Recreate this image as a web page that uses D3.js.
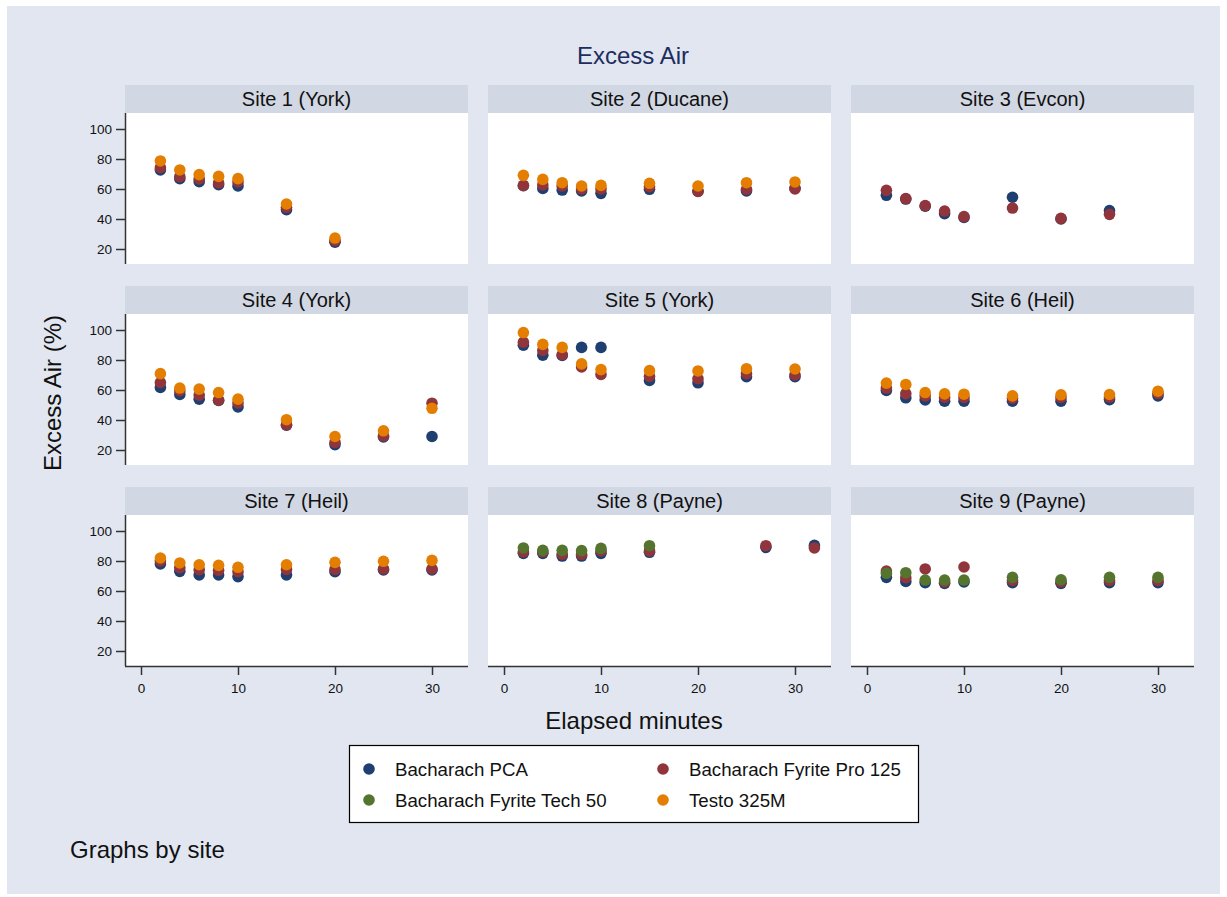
<!DOCTYPE html>
<html>
<head>
<meta charset="utf-8">
<script src="https://cdn.jsdelivr.net/npm/d3@7"></script>
<style>
  body { margin:0; background:#ffffff; }
  svg text { font-family: "Liberation Sans", Arial, sans-serif; }
</style>
</head>
<body>
<div class="chart"></div>
<script>
// facets
var sites = ["Site 1 (York)", "Site 2 (Ducane)", "Site 3 (Evcon)",
             "Site 4 (York)", "Site 5 (York)", "Site 6 (Heil)",
             "Site 7 (Heil)", "Site 8 (Payne)", "Site 9 (Payne)"];

var minutes = [
  [2,4,6,8,10,15,20],
  [2,4,6,8,10,15,20,25,30],
  [2,4,6,8,10,15,20,25],
  [2,4,6,8,10,15,20,25,30],
  [2,4,6,8,10,15,20,25,30],
  [2,4,6,8,10,15,20,25,30],
  [2,4,6,8,10,15,20,25,30],
  [2,4,6,8,10,15,27,32],
  [2,4,6,8,10,15,20,25,30]
];

// excess air (%) by analyzer, one row per site (null = not measured)
var pca = [
  [72.7,66.9,64.9,62.9,62.0,46.2,24.5],
  [62.2,60.4,59.3,58.7,57.1,59.8,58.5,58.7,60.5],
  [55.8,53.3,48.5,43.6,41.0,54.5,40.0,45.6],
  [61.7,57.0,53.9,53.0,48.7,36.5,23.6,28.7,29.0],
  [89.9,83.2,83.0,88.4,88.4,66.4,64.8,68.9,68.9],
  [59.7,54.8,53.4,52.5,52.5,52.5,52.5,53.6,56.1],
  [78.0,73.1,70.7,70.7,69.6,70.7,72.9,74.0,74.0],
  [85.1,85.1,83.3,83.3,85.1,85.8,89.1,90.4],
  [69.1,66.4,65.6,65.1,66.0,65.6,65.1,65.6,65.6]
];
var pro125 = [
  [74.2,68.2,66.7,64.0,64.7,47.8,25.6],
  [62.4,62.7,62.0,60.0,60.0,61.5,58.4,59.8,60.0],
  [59.1,53.6,48.9,45.3,41.6,47.3,40.4,43.1],
  [65.0,59.5,56.6,53.2,51.4,36.8,25.0,29.4,51.2],
  [91.9,86.4,83.5,75.4,70.4,69.1,67.5,70.9,70.0],
  [61.3,57.6,56.1,55.0,55.0,54.5,55.0,55.3,57.7],
  [80.0,75.5,74.2,73.8,72.9,74.4,74.4,74.7,74.7],
  [86.0,86.0,84.5,84.4,86.7,86.7,90.2,88.7],
  [73.3,68.9,74.7,66.0,76.0,67.0,66.0,67.0,67.0]
];
var tech50 = [
  null, null, null, null, null, null, null,
  [88.7,87.1,87.1,86.9,88.4,90.2,null,null],
  [71.8,72.2,67.3,67.3,67.3,69.1,67.5,69.1,69.1]
];
var testo = [
  [78.7,72.7,69.6,68.4,66.9,50.0,27.3],
  [69.1,66.4,64.2,62.0,62.4,63.8,62.0,64.2,64.7],
  null,
  [70.9,61.3,60.6,58.3,53.9,40.2,29.0,32.8,47.8],
  [98.3,90.4,88.4,77.4,73.6,72.9,72.7,74.2,74.0],
  [64.6,63.7,58.3,57.4,57.2,56.1,56.8,57.0,59.2],
  [82.0,78.7,77.5,77.1,75.8,77.5,79.1,79.8,80.4],
  null,
  null
];

var seriesNames = ["Bacharach PCA", "Bacharach Fyrite Pro 125", "Bacharach Fyrite Tech 50", "Testo 325M"];
var seriesColors = ["#1f3f70", "#90353b", "#55752f", "#e37e00"];
var seriesData = [pca, pro125, tech50, testo];

var xTicks = [0,10,20,30];
var yTicks = [20,40,60,80,100];

function make_chart() {
    var W = 1227, H = 897;
    var svg = d3.select(".chart").append("svg")
                .attr("width", W)
                .attr("height", H);

    svg.append("rect")
       .attr("x", 7).attr("y", 6)
       .attr("width", 1213).attr("height", 888)
       .attr("fill", "#e1e6f0");

    var colLeft = [125, 488, 851],
        rowTop  = [113, 314, 515],
        pw = 343, ph = 151, stripH = 28;

    var x = d3.scaleLinear().domain([0, 30]).range([16, 307]);
    var y = d3.scaleLinear().domain([20, 100]).range([ph - 15, ph - 135]);

    sites.forEach(function(name, i) {
        var r = Math.floor(i / 3), c = i % 3;
        var g = svg.append("g")
                   .attr("transform", "translate(" + colLeft[c] + "," + rowTop[r] + ")");

        // strip
        g.append("rect")
         .attr("x", 0).attr("y", -stripH)
         .attr("width", pw).attr("height", stripH)
         .attr("fill", "#d1d7e3");
        g.append("text")
         .attr("x", pw / 2).attr("y", -7.5)
         .attr("text-anchor", "middle")
         .attr("font-size", 20)
         .attr("fill", "#111")
         .text(name);

        g.append("rect")
         .attr("width", pw).attr("height", ph)
         .attr("fill", "#ffffff");

        // points, drawn in series order so orange ends on top
        seriesData.forEach(function(s, k) {
            var vals = s[i];
            if (!vals) return;
            var pts = minutes[i].map(function(m, j) { return {m: m, v: vals[j]}; })
                                .filter(function(d) { return d.v != null; });
            g.selectAll(".pt" + k)
             .data(pts)
             .enter()
             .append("circle")
             .attr("class", "pt" + k)
             .attr("cx", function(d) { return x(d.m); })
             .attr("cy", function(d) { return y(d.v); })
             .attr("r", 5.8)
             .attr("fill", seriesColors[k]);
        });

        if (c == 0) {
            var ya = g.append("g")
                      .call(d3.axisLeft(y).tickValues(yTicks).tickSize(9).tickPadding(4));
            ya.select(".domain").attr("d", "M0.5,0V" + ph);
            ya.selectAll("line, path").attr("stroke", "#333").attr("stroke-width", 1.5);
            ya.selectAll("text").attr("font-size", 13.5).attr("fill", "#111")
              .style("font-family", "'Liberation Sans', Arial, sans-serif");
        }
        if (r == 2) {
            var xa = g.append("g")
                      .attr("transform", "translate(0," + ph + ")")
                      .call(d3.axisBottom(x).tickValues(xTicks).tickSize(9).tickPadding(8));
            xa.select(".domain").attr("d", "M0,0.5H" + pw);
            xa.selectAll("line, path").attr("stroke", "#333").attr("stroke-width", 1.5);
            xa.selectAll("text").attr("font-size", 13.5).attr("fill", "#111")
              .style("font-family", "'Liberation Sans', Arial, sans-serif");
        }
    });

    svg.append("text")
       .attr("x", 633).attr("y", 64)
       .attr("text-anchor", "middle")
       .attr("font-size", 24)
       .attr("fill", "#1e2d5e")
       .text("Excess Air");

    svg.append("text")
       .attr("transform", "translate(61,393) rotate(-90)")
       .attr("text-anchor", "middle")
       .attr("font-size", 24)
       .attr("fill", "#111")
       .text("Excess Air (%)");

    svg.append("text")
       .attr("x", 634).attr("y", 729)
       .attr("text-anchor", "middle")
       .attr("font-size", 24)
       .attr("fill", "#111")
       .text("Elapsed minutes");

    // legend
    var leg = svg.append("g");
    leg.append("rect")
       .attr("x", 349.5).attr("y", 745.5)
       .attr("width", 569).attr("height", 77)
       .attr("fill", "#ffffff")
       .attr("stroke", "#000").attr("stroke-width", 1.2);
    var legPos = [[369, 769], [663, 769], [369, 800], [663, 800]];
    seriesNames.forEach(function(n, k) {
        leg.append("circle")
           .attr("cx", legPos[k][0]).attr("cy", legPos[k][1])
           .attr("r", 5.8).attr("fill", seriesColors[k]);
        leg.append("text")
           .attr("x", legPos[k][0] + 26).attr("y", legPos[k][1] + 7)
           .attr("font-size", 18.7)
           .attr("fill", "#111")
           .text(n);
    });

    svg.append("text")
       .attr("x", 70).attr("y", 858)
       .attr("font-size", 24)
       .attr("fill", "#111")
       .text("Graphs by site");
}

make_chart();
</script>
</body>
</html>
